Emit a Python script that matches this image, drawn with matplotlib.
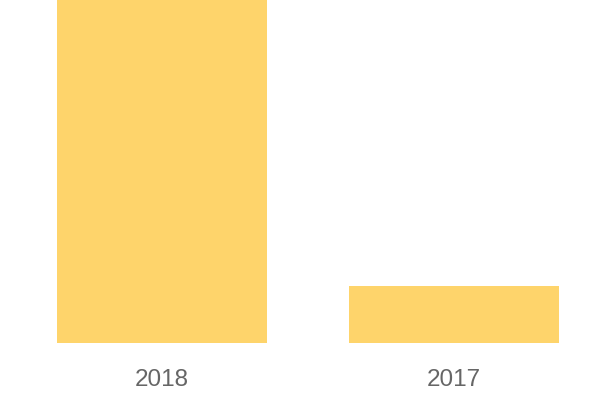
import matplotlib.pyplot as plt

years = ["2018", "2017"]
values = [100, 16.6]

fig = plt.figure(figsize=(6, 4), dpi=100)
ax = fig.add_axes([0, 57 / 400, 1, 343 / 400])

ax.bar(range(len(years)), values, width=210 / 292, color="#FED46B")
ax.set_xlim(-162 / 292, 438 / 292)
ax.set_ylim(0, 100)
ax.axis("off")

for i, label in enumerate(years):
    ax.annotate(label, xy=(i, 0), xytext=(0, -37), textcoords="offset pixels",
                ha="center", va="center", fontsize=17.5, color="#666666",
                family="Liberation Sans")

fig.savefig("out.png", dpi=100)
